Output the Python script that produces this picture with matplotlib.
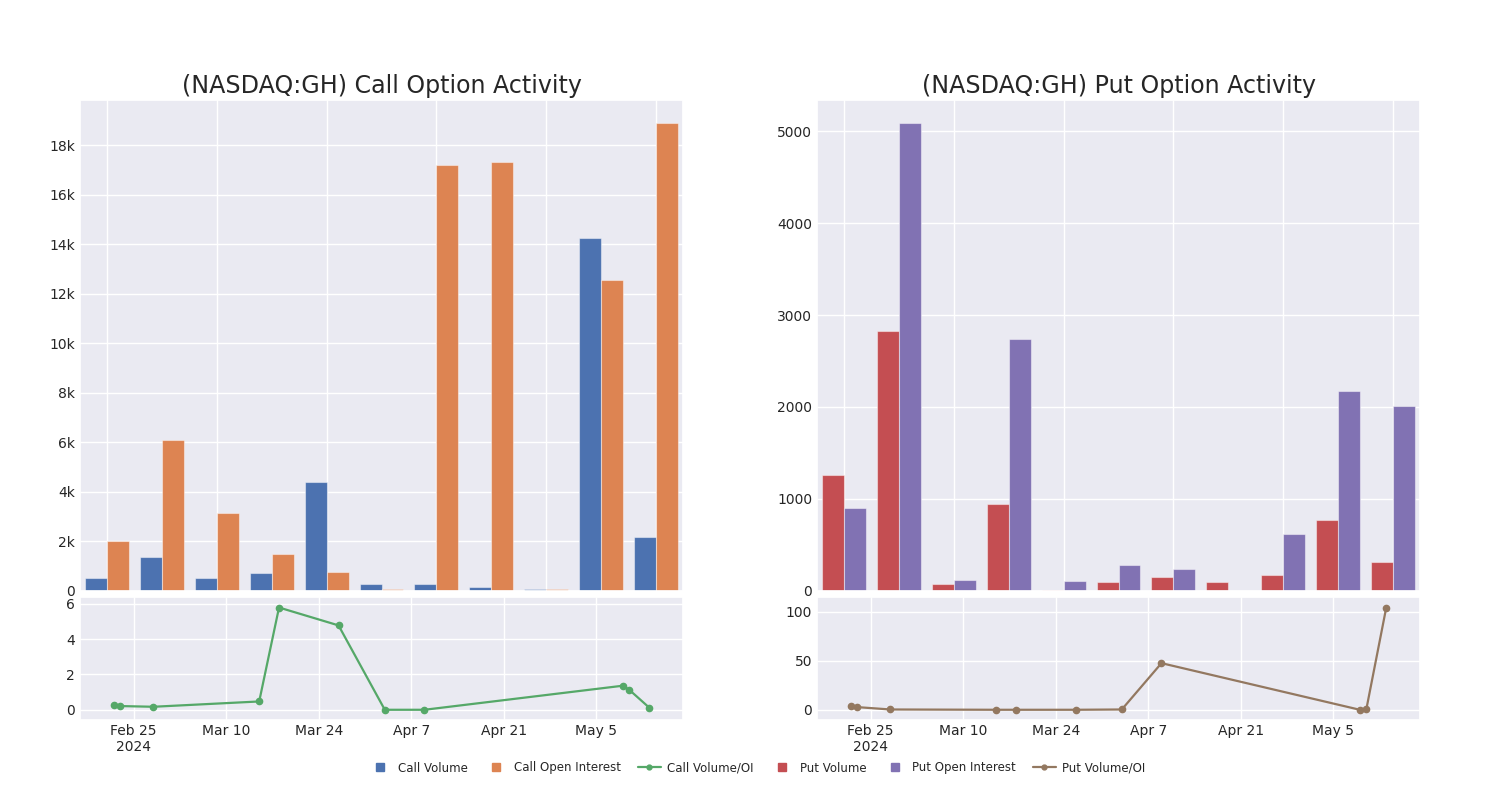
import numpy as np
import pandas as pd
import matplotlib
matplotlib.use("Agg")
import matplotlib.pyplot as plt
from matplotlib.ticker import FuncFormatter, FixedLocator, MultipleLocator
from matplotlib.lines import Line2D
import seaborn as sns

sns.set_theme(style="darkgrid")
plt.rcParams['font.family'] = ['DejaVu Sans']

# ---------------- data ----------------
dates = ["2024-02-22", "2024-02-23", "2024-02-28", "2024-03-15", "2024-03-18",
         "2024-03-27", "2024-04-03", "2024-04-09", "2024-05-09", "2024-05-10",
         "2024-05-13"]
call_volume = [513, 1363, 499, 715, 4386, 283, 256, 135, 67, 14251, 2173]
call_oi = [2011, 6086, 3158, 1484, 742, 60, 17193, 17314, 50, 12564, 18880]
call_ratio = [0.26, 0.21, 0.17, 0.47, 5.78, 4.77, 0.0, 0.0, 1.36, 1.12, 0.12]

put_volume = [1262, 2822, 69, 942, 4, 95, 145, 91, 171, 775, 309]
put_oi = [905, 5087, 113, 2742, 105, 280, 236, 0, 615, 2175, 2015]
put_ratio = [3.7, 2.7, 0.3, 0.0, 0.0, 0.0, 0.3, 47.6, 0.0, 1.0, 104.4]

date_ticks = ["2024-02-25", "2024-03-10", "2024-03-24", "2024-04-07",
              "2024-04-21", "2024-05-05"]
date_tick_labels = ["Feb 25\n2024", "Mar 10", "Mar 24", "Apr 7", "Apr 21", "May 5"]

titles = ["(NASDAQ:GH) Call Option Activity", "(NASDAQ:GH) Put Option Activity"]
legend_labels = ["Call Volume", "Call Open Interest", "Call Volume/OI",
                 "Put Volume", "Put Open Interest", "Put Volume/OI"]

pal = sns.color_palette("deep")
c_blue, c_orange, c_green, c_red, c_purple, c_brown = pal[0], pal[1], pal[2], pal[3], pal[4], pal[5]

dt = pd.to_datetime(dates)
dticks = pd.to_datetime(date_ticks)

fig = plt.figure(figsize=(15, 8), dpi=100)
W = 1500.0
H = 800.0

def rect(x0, y0, x1, y1):
    return [x0 / W, 1 - y1 / H, (x1 - x0) / W, (y1 - y0) / H]

ax_ct = fig.add_axes(rect(80, 100, 683, 590.7))
ax_cb = fig.add_axes(rect(80, 597.3, 683, 720))
ax_pt = fig.add_axes(rect(817, 100, 1420, 590.7))
ax_pb = fig.add_axes(rect(817, 597.3, 1420, 720))

n = len(dates)
x = np.arange(n)
bw = 0.4

def kfmt(v, pos):
    if v == 0:
        return "0"
    return f"{int(round(v / 1000))}k"

def bars(ax, a, b, ca, cb, title):
    ax.bar(x - bw / 2, a, width=bw, color=ca, edgecolor=(1, 1, 1, 0.45), linewidth=0.8)
    ax.bar(x + bw / 2, b, width=bw, color=cb, edgecolor=(1, 1, 1, 0.45), linewidth=0.8)
    ax.set_xlim(-0.5, n - 0.5)
    ax.xaxis.set_major_locator(FixedLocator(list(range(0, n, 2))))
    ax.set_xticklabels([])
    ax.tick_params(axis='both', length=0, labelsize=10, colors="#262626")
    ax.set_title(title, fontsize=17.1, pad=5, color="#262626")

def lines(ax, vals, col):
    ax.plot(dt, vals, color=col, marker='o', markersize=4.5, linewidth=1.6)
    ax.margins(y=0.1)
    span = dt.max() - dt.min()
    pad = span * 0.063
    ax.set_xlim(dt.min() - pad, dt.max() + pad)
    ax.set_xticks(dticks)
    ax.set_xticklabels(date_tick_labels)
    ax.tick_params(axis='both', length=0, labelsize=10, colors="#262626")
    ax.tick_params(axis='x', pad=3)

bars(ax_ct, call_volume, call_oi, c_blue, c_orange, titles[0])
ax_ct.yaxis.set_major_locator(MultipleLocator(2000))
ax_ct.yaxis.set_major_formatter(FuncFormatter(kfmt))
bars(ax_pt, put_volume, put_oi, c_red, c_purple, titles[1])
ax_pt.yaxis.set_major_locator(MultipleLocator(1000))
lines(ax_cb, call_ratio, c_green)
ax_cb.yaxis.set_major_locator(MultipleLocator(2))
lines(ax_pb, put_ratio, c_brown)
ax_pb.yaxis.set_major_locator(MultipleLocator(50))

def sq(c, lab):
    return Line2D([0], [0], color=c, marker='s', markersize=5.5, linestyle='none', label=lab)

def ln(c, lab):
    return Line2D([0], [0], color=c, marker='o', markersize=3.5, linewidth=1.6, label=lab)

handles = [sq(c_blue, legend_labels[0]), sq(c_orange, legend_labels[1]), ln(c_green, legend_labels[2]),
           sq(c_red, legend_labels[3]), sq(c_purple, legend_labels[4]), ln(c_brown, legend_labels[5])]
fig.legend(handles=handles, loc="center", bbox_to_anchor=(757 / W, 1 - 768 / H), ncol=6,
           frameon=False, fontsize=8.5, handlelength=2.0, handletextpad=0.5,
           columnspacing=1.4, labelcolor="#262626")

fig.savefig("out.png", dpi=100, facecolor="white")
